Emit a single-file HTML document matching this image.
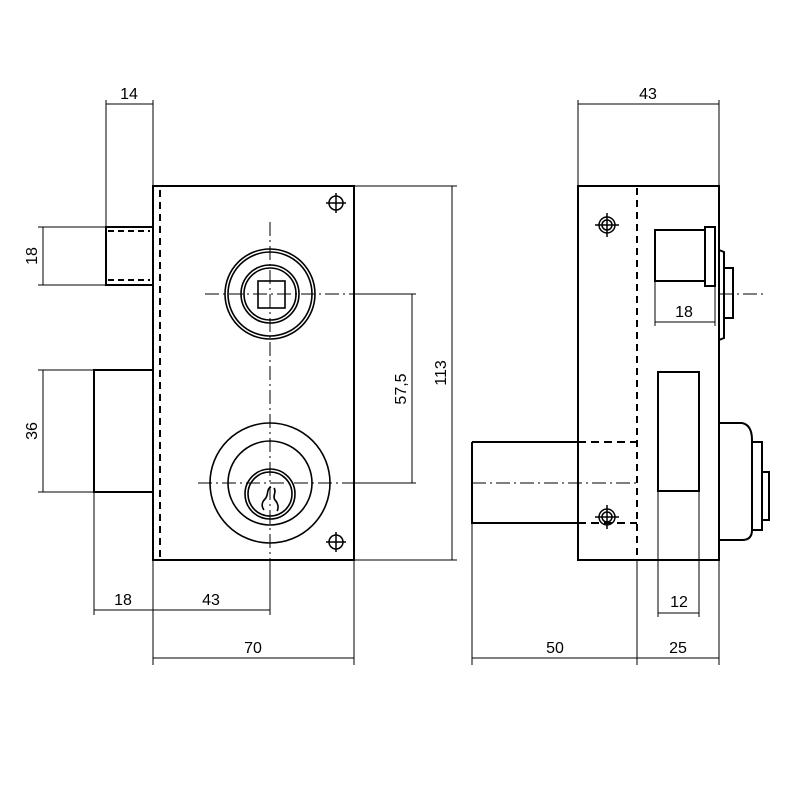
<!DOCTYPE html>
<html><head><meta charset="utf-8"><style>
html,body{margin:0;padding:0;background:#fff}
svg{display:block}
text{font-family:"Liberation Sans",sans-serif;font-size:16px;fill:#000;stroke:none}
</style></head><body>
<svg width="800" height="800" viewBox="0 0 800 800" xmlns="http://www.w3.org/2000/svg">
<g fill="none" stroke="#000">
<!-- LEFT VIEW -->
<g stroke-width="2">
<rect x="153" y="186" width="201" height="374"/>
<path d="M106 227H153V285H106Z"/>
<path d="M94 370H153V492H94Z"/>
</g>
<path d="M160 190V558" stroke-width="2" stroke-dasharray="7,5"/>
<path d="M108 231H150M108 280H150" stroke-width="2" stroke-dasharray="6,4"/>
<g stroke-width="1.6">
<circle cx="270" cy="294" r="45"/><circle cx="270" cy="294" r="42"/>
<circle cx="270" cy="294" r="29"/><circle cx="270" cy="294" r="26"/>
<rect x="258" y="281" width="27" height="27"/>
<circle cx="270" cy="483" r="60"/><circle cx="270" cy="483" r="42"/>
<circle cx="270" cy="494" r="25"/><circle cx="270" cy="494" r="22"/>
<path d="M271 487c-5 2-2 8-6 12c-3 3-4 7-1 11M274 488c3 4-2 8 1 12c3 3 4 8 2 11"/>
</g>
<g stroke-width="1.5"><circle cx="336" cy="203" r="7"/><circle cx="336" cy="542" r="7"/>
<path d="M336 193V213M326 203H346M336 532V552M326 542H346"/></g>
<g stroke-width="1" stroke-dasharray="14,4,2,4">
<path d="M270 222V565M205 294H360M198 483H360"/>
</g>
<g stroke-width="1">
<path d="M106 100V227M153 100V186M106 104H153"/>
<path d="M38 227H106M38 285H106M43 227V285"/>
<path d="M38 370H94M38 492H94M43 370V492"/>
<path d="M94 492V615M153 560V665M270 565V615M354 560V665M94 610H270M153 658H354"/>
<path d="M354 294H416M354 483H416M412 294V483"/>
<path d="M354 186H457M354 560H457M452 186V560"/>
</g>
<text x="129" y="99" text-anchor="middle">14</text>
<text x="0" y="0" transform="translate(37,256) rotate(-90)" text-anchor="middle">18</text>
<text x="0" y="0" transform="translate(37,431) rotate(-90)" text-anchor="middle">36</text>
<text x="123" y="605" text-anchor="middle">18</text>
<text x="211" y="605" text-anchor="middle">43</text>
<text x="253" y="653" text-anchor="middle">70</text>
<text x="0" y="0" transform="translate(406,389) rotate(-90)" text-anchor="middle">57,5</text>
<text x="0" y="0" transform="translate(446,373) rotate(-90)" text-anchor="middle">113</text>

<!-- RIGHT VIEW -->
<g stroke-width="2">
<rect x="578" y="186" width="141" height="374"/>
<path d="M655 230H705V281H655Z"/>
<path d="M705 227H715V286H705Z"/>
<path d="M719 250L724 252V338L719 340"/>
<path d="M724 268H733V318H724"/>
<rect x="658" y="372" width="41" height="119"/>
<path d="M719 423H742Q752 425 752 440V530Q752 540 742 540H719"/>
<path d="M752 442H762V530H752M762 472H769V520H762"/>
<path d="M472 442H578M472 442V523H578"/>
</g>
<path d="M637 188V558" stroke-width="2" stroke-dasharray="7,5"/>
<path d="M578 442H637M578 523H637" stroke-width="2" stroke-dasharray="8,5"/>
<g stroke-width="1" stroke-dasharray="14,4,2,4">
<path d="M472 483H637M719 294H765"/>
</g>
<g stroke-width="1.5"><circle cx="607" cy="225" r="8"/><circle cx="607" cy="225" r="5"/>
<circle cx="607" cy="517" r="8"/><circle cx="607" cy="517" r="5"/>
<path d="M607 213V237M595 225H619M607 505V529M595 517H619"/></g>
<g stroke-width="1">
<path d="M578 100V186M719 100V186M578 104H719"/>
<path d="M655 281V326M715 286V326M655 322H715"/>
<path d="M658 491V617M699 491V617M658 613H699"/>
<path d="M472 523V665M637 560V665M719 560V665M472 658H719"/>
</g>
<text x="648" y="99" text-anchor="middle">43</text>
<text x="684" y="317" text-anchor="middle">18</text>
<text x="679" y="607" text-anchor="middle">12</text>
<text x="555" y="653" text-anchor="middle">50</text>
<text x="678" y="653" text-anchor="middle">25</text>
</g>
</svg>
</body></html>
